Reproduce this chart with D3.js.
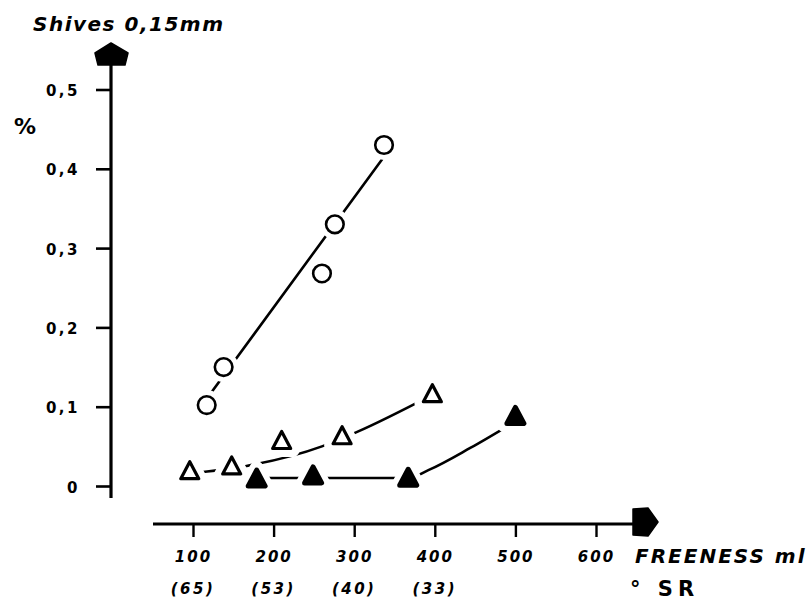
<!DOCTYPE html>
<html>
<head>
<meta charset="utf-8">
<script src="https://cdn.jsdelivr.net/npm/d3@7"></script>
<style>
  body { margin: 0; background: #fff; }
  svg { display: block; }
  .tick-label { font-family: "DejaVu Sans", sans-serif; font-weight: bold; fill: #000; }
</style>
</head>
<body>
<svg id="chart"></svg>
<script>
// 数据
const freenessTicks = [100, 200, 300, 400, 500, 600];
const srTicks = [100, 200, 300, 400];
const srLabels = ["(65)", "(53)", "(40)", "(33)"];
const shivesTicks = [0, 0.1, 0.2, 0.3, 0.4, 0.5];

// 圆点
const circleFreeness = [117, 138, 260, 276, 337];
const circleShives = [0.102, 0.150, 0.268, 0.330, 0.430];
const circleFitFreeness = [117, 344];
const circleFitShives = [0.11, 0.425];

// 空心三角
const openTriFreeness = [96, 148, 210, 285, 397];
const openTriShives = [0.020, 0.026, 0.058, 0.064, 0.117];
const openFitFreeness = [96, 165, 260, 303, 397];
const openFitShives = [0.016, 0.025, 0.050, 0.068, 0.115];

// 实心三角
const fillTriFreeness = [179, 249, 367, 500];
const fillTriShives = [0.010, 0.014, 0.011, 0.089];
const fillFitFreeness = [179, 249, 367, 392, 444, 496];
const fillFitShives = [0.010, 0.010, 0.010, 0.020, 0.048, 0.079];

const W = 812, H = 606;
const svg = d3.select("#chart").attr("width", W).attr("height", H);

const x = d3.scaleLinear().domain([100, 600]).range([193, 596]);
const y = d3.scaleLinear().domain([0, 0.5]).range([486, 89.5]);

const axisX = 111; // y轴位置
const axisY = 524; // x轴位置

// y 轴
svg.append("line")
  .attr("x1", axisX).attr("x2", axisX)
  .attr("y1", 62).attr("y2", 498)
  .attr("stroke", "#000").attr("stroke-width", 3.2);

svg.append("path")
  .attr("d", `M${axisX - 16},53 L${axisX},43 L${axisX + 17},53 L${axisX + 14},65 L${axisX - 13},65 Z`)
  .attr("fill", "#000").attr("stroke", "#000").attr("stroke-width", 1.5).attr("stroke-linejoin", "round");

const yAxis = svg.append("g")
  .attr("transform", `translate(${axisX},0)`)
  .call(d3.axisLeft(y).tickValues(shivesTicks).tickSize(15).tickPadding(16)
    .tickFormat((d) => (d === 0 ? "0" : d3.format(".1f")(d).replace(".", ","))));
yAxis.select(".domain").remove();
yAxis.selectAll(".tick line").attr("stroke", "#000").attr("stroke-width", 2.6);
yAxis.selectAll(".tick text")
  .attr("class", "tick-label")
  .style("font-size", "15px")
  .style("letter-spacing", "2.5px")
  .attr("dy", "0.4em");

// x 轴
svg.append("line")
  .attr("x1", 153).attr("x2", 636)
  .attr("y1", axisY).attr("y2", axisY)
  .attr("stroke", "#000").attr("stroke-width", 3.2);

svg.append("path")
  .attr("d", `M633,509 L648,508 L658,522 L648,536 L633,535 Z`)
  .attr("fill", "#000").attr("stroke", "#000").attr("stroke-width", 1.5).attr("stroke-linejoin", "round");

const xAxis = svg.append("g")
  .attr("transform", `translate(0,${axisY})`)
  .call(d3.axisBottom(x).tickValues(freenessTicks).tickSize(13).tickPadding(14));
xAxis.select(".domain").remove();
xAxis.selectAll(".tick line").attr("stroke", "#000").attr("stroke-width", 2.4);
xAxis.selectAll(".tick text")
  .attr("class", "tick-label")
  .style("font-size", "15px")
  .style("font-style", "italic")
  .style("letter-spacing", "2px");

// °SR 标签
svg.selectAll(".sr-label")
  .data(srTicks)
  .enter()
  .append("text")
  .attr("class", "tick-label sr-label")
  .attr("x", (d) => x(d))
  .attr("y", 594)
  .attr("text-anchor", "middle")
  .style("font-size", "15px")
  .style("font-style", "italic")
  .style("letter-spacing", "2.5px")
  .text((d, i) => srLabels[i]);

// 标题与单位
svg.append("text")
  .attr("x", 33).attr("y", 31)
  .style("font-family", "DejaVu Sans, sans-serif")
  .style("font-weight", "bold").style("font-style", "italic")
  .style("font-size", "20px").style("letter-spacing", "1.5px")
  .text("Shives 0,15mm");

svg.append("text")
  .attr("x", 14).attr("y", 134)
  .style("font-family", "DejaVu Sans, sans-serif")
  .style("font-weight", "bold")
  .style("font-size", "22px")
  .text("%");

svg.append("text")
  .attr("x", 635).attr("y", 563)
  .style("font-family", "DejaVu Sans, sans-serif")
  .style("font-weight", "bold").style("font-style", "italic")
  .style("font-size", "20px").style("letter-spacing", "2px")
  .text("FREENESS ml");

svg.append("text")
  .attr("x", 630).attr("y", 596)
  .style("font-family", "DejaVu Sans, sans-serif")
  .style("font-weight", "bold")
  .style("font-size", "21px").style("letter-spacing", "5px")
  .text("° SR");

// 拟合线
const straight = d3.line().x((d) => x(d[0])).y((d) => y(d[1]));
const smooth = d3.line().x((d) => x(d[0])).y((d) => y(d[1])).curve(d3.curveMonotoneX);

function zip(a, b) { return a.map((v, i) => [v, b[i]]); }

const lineStyle = (sel) => sel.attr("fill", "none").attr("stroke", "#000").attr("stroke-width", 2.6).attr("stroke-linecap", "round");

svg.append("path").datum(zip(circleFitFreeness, circleFitShives)).attr("d", straight).call(lineStyle);
svg.append("path").datum(zip(openFitFreeness, openFitShives)).attr("d", smooth).call(lineStyle);
svg.append("path").datum(zip(fillFitFreeness, fillFitShives)).attr("d", smooth).call(lineStyle);

// 标记
function triPath(w, h) {
  return `M0,${-h / 2} L${w / 2},${h / 2} L${-w / 2},${h / 2} Z`;
}

function drawMarkers(data, kind) {
  const g = svg.append("g");
  const pts = g.selectAll("g").data(data).enter().append("g")
    .attr("transform", (d) => `translate(${x(d[0])},${y(d[1])})`);
  if (kind === "circle") {
    pts.append("circle").attr("r", 15).attr("fill", "#fff");
    pts.append("circle").attr("r", 8.8).attr("fill", "#fff").attr("stroke", "#000").attr("stroke-width", 2.6);
  } else {
    pts.append("path").attr("d", triPath(22, 20)).attr("fill", "#fff").attr("stroke", "#fff")
      .attr("stroke-width", 14).attr("stroke-linejoin", "round");
    pts.append("path").attr("d", triPath(kind === "open" ? 18 : 17, kind === "open" ? 17 : 16))
      .attr("fill", kind === "open" ? "#fff" : "#000")
      .attr("stroke", "#000").attr("stroke-width", kind === "open" ? 3.2 : 5)
      .attr("stroke-linejoin", "round");
  }
}

drawMarkers(zip(circleFreeness, circleShives), "circle");
drawMarkers(zip(openTriFreeness, openTriShives), "open");
drawMarkers(zip(fillTriFreeness, fillTriShives), "fill");
</script>
</body>
</html>
